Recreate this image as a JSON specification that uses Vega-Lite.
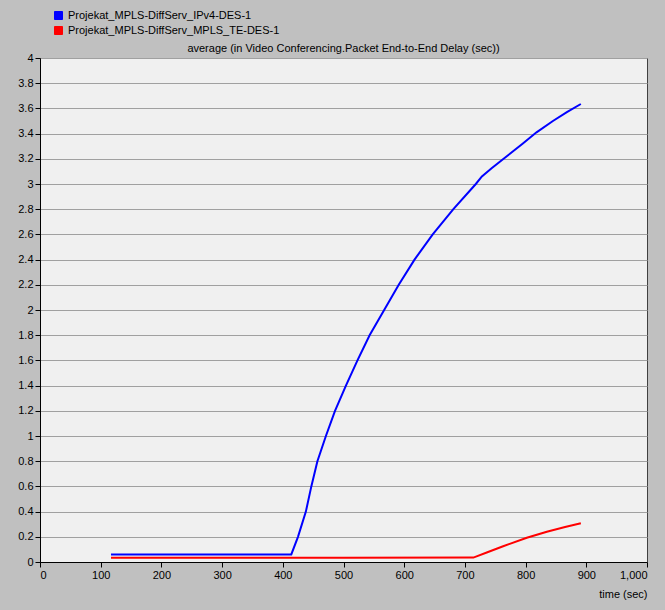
{
  "$schema": "https://vega.github.io/schema/vega-lite/v6.json",
  "width": 607,
  "height": 504,
  "autosize": {"type": "none"},
  "padding": {"left": 40, "top": 58, "right": 18, "bottom": 48},
  "background": "#c0c0c0",
  "config": {
    "font": "Liberation Sans",
    "view": {"fill": "#f0f0f0", "stroke": "#404040", "strokeWidth": 1},
    "axis": {"labelFont": "Liberation Sans", "labelFontSize": 11, "labelColor": "#000000", "domainColor": "#000000", "tickColor": "#000000", "tickSize": 5, "titleFont": "Liberation Sans", "titleFontSize": 11, "titleFontWeight": "normal", "titleColor": "#000000"},
    "legend": {"labelFont": "Liberation Sans", "labelFontSize": 11, "labelColor": "#000000"}
  },
  "title": {"text": "average (in Video Conferencing.Packet End-to-End Delay (sec))", "fontSize": 11, "fontWeight": "normal", "font": "Liberation Sans", "color": "#000000", "anchor": "middle", "offset": 4, "dy": 48},
  "data": {"values": [
    {"series": "Projekat_MPLS-DiffServ_IPv4-DES-1", "t": 117, "v": 0.06},
    {"series": "Projekat_MPLS-DiffServ_IPv4-DES-1", "t": 200, "v": 0.06},
    {"series": "Projekat_MPLS-DiffServ_IPv4-DES-1", "t": 300, "v": 0.06},
    {"series": "Projekat_MPLS-DiffServ_IPv4-DES-1", "t": 414, "v": 0.06},
    {"series": "Projekat_MPLS-DiffServ_IPv4-DES-1", "t": 425, "v": 0.2},
    {"series": "Projekat_MPLS-DiffServ_IPv4-DES-1", "t": 438, "v": 0.4},
    {"series": "Projekat_MPLS-DiffServ_IPv4-DES-1", "t": 447, "v": 0.6},
    {"series": "Projekat_MPLS-DiffServ_IPv4-DES-1", "t": 457, "v": 0.8},
    {"series": "Projekat_MPLS-DiffServ_IPv4-DES-1", "t": 471, "v": 1.0},
    {"series": "Projekat_MPLS-DiffServ_IPv4-DES-1", "t": 486, "v": 1.2},
    {"series": "Projekat_MPLS-DiffServ_IPv4-DES-1", "t": 504, "v": 1.4},
    {"series": "Projekat_MPLS-DiffServ_IPv4-DES-1", "t": 523, "v": 1.6},
    {"series": "Projekat_MPLS-DiffServ_IPv4-DES-1", "t": 543, "v": 1.8},
    {"series": "Projekat_MPLS-DiffServ_IPv4-DES-1", "t": 567, "v": 2.0},
    {"series": "Projekat_MPLS-DiffServ_IPv4-DES-1", "t": 591, "v": 2.2},
    {"series": "Projekat_MPLS-DiffServ_IPv4-DES-1", "t": 617, "v": 2.4},
    {"series": "Projekat_MPLS-DiffServ_IPv4-DES-1", "t": 647, "v": 2.6},
    {"series": "Projekat_MPLS-DiffServ_IPv4-DES-1", "t": 681, "v": 2.8},
    {"series": "Projekat_MPLS-DiffServ_IPv4-DES-1", "t": 718, "v": 3.0},
    {"series": "Projekat_MPLS-DiffServ_IPv4-DES-1", "t": 728, "v": 3.06},
    {"series": "Projekat_MPLS-DiffServ_IPv4-DES-1", "t": 744, "v": 3.125},
    {"series": "Projekat_MPLS-DiffServ_IPv4-DES-1", "t": 769, "v": 3.22},
    {"series": "Projekat_MPLS-DiffServ_IPv4-DES-1", "t": 795, "v": 3.32},
    {"series": "Projekat_MPLS-DiffServ_IPv4-DES-1", "t": 818, "v": 3.41},
    {"series": "Projekat_MPLS-DiffServ_IPv4-DES-1", "t": 845, "v": 3.5},
    {"series": "Projekat_MPLS-DiffServ_IPv4-DES-1", "t": 868, "v": 3.57},
    {"series": "Projekat_MPLS-DiffServ_IPv4-DES-1", "t": 891, "v": 3.635},
    {"series": "Projekat_MPLS-DiffServ_MPLS_TE-DES-1", "t": 117, "v": 0.033},
    {"series": "Projekat_MPLS-DiffServ_MPLS_TE-DES-1", "t": 300, "v": 0.033},
    {"series": "Projekat_MPLS-DiffServ_MPLS_TE-DES-1", "t": 500, "v": 0.033},
    {"series": "Projekat_MPLS-DiffServ_MPLS_TE-DES-1", "t": 714, "v": 0.035},
    {"series": "Projekat_MPLS-DiffServ_MPLS_TE-DES-1", "t": 736, "v": 0.075},
    {"series": "Projekat_MPLS-DiffServ_MPLS_TE-DES-1", "t": 763, "v": 0.125},
    {"series": "Projekat_MPLS-DiffServ_MPLS_TE-DES-1", "t": 802, "v": 0.192},
    {"series": "Projekat_MPLS-DiffServ_MPLS_TE-DES-1", "t": 835, "v": 0.24},
    {"series": "Projekat_MPLS-DiffServ_MPLS_TE-DES-1", "t": 865, "v": 0.278},
    {"series": "Projekat_MPLS-DiffServ_MPLS_TE-DES-1", "t": 891, "v": 0.307}
  ]},
  "mark": {"type": "line", "strokeWidth": 2, "clip": true},
  "encoding": {
    "x": {"field": "t", "type": "quantitative", "scale": {"domain": [0, 1000], "nice": false},
      "axis": {"values": [0,100,200,300,400,500,600,700,800,900,1000], "format": ",d", "grid": false, "labelPadding": 2, "title": "time (sec)", "titleAnchor": "end", "titleAlign": "right", "titleBaseline": "alphabetic", "titleX": 607, "titleY": 35}},
    "y": {"field": "v", "type": "quantitative", "scale": {"domain": [0, 4], "nice": false, "zero": true},
      "axis": {"values": [0,0.2,0.4,0.6,0.8,1,1.2,1.4,1.6,1.8,2,2.2,2.4,2.6,2.8,3,3.2,3.4,3.6,3.8,4], "format": "~g", "grid": true, "gridColor": "#a0a0a0", "gridOpacity": 1, "labelPadding": 2, "title": null}},
    "color": {"field": "series", "type": "nominal",
      "scale": {"domain": ["Projekat_MPLS-DiffServ_IPv4-DES-1", "Projekat_MPLS-DiffServ_MPLS_TE-DES-1"], "range": ["#0000ff", "#ff0000"]},
      "legend": {"title": null, "orient": "none", "legendX": 13, "legendY": -48, "padding": 0, "symbolType": "square", "symbolSize": 64, "labelOffset": 4, "rowPadding": 2, "labelLimit": 400,
        "encode": {"symbols": {"update": {"fill": {"scale": "color", "field": "value"}, "fillOpacity": {"value": 1}, "stroke": {"value": "#202020"}, "strokeWidth": {"value": 1}}}}}}
  }
}
